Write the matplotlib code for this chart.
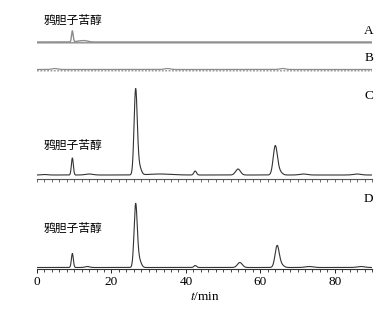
import numpy as np
import matplotlib
matplotlib.use("Agg")
import matplotlib.pyplot as plt

plt.rcParams['font.family'] = ['Liberation Serif', 'Noto Sans CJK SC']
plt.rcParams['mathtext.fontset'] = 'stix'

# --- peak tables: retention time (min), height, width ---
peaks_a_t = [9.5, 11.5, 13.0]
peaks_a_h = [11, 1, 1]
peaks_a_w = [0.22, 1.0, 0.8]

peaks_b_t = [4.8, 35.0, 66.0]
peaks_b_h = [1, 1, 1]
peaks_b_w = [0.8, 0.8, 0.8]

peaks_c_t = [2.0, 9.5, 14.0, 26.5, 27.4, 33.0, 42.5, 54.0, 64.0, 65.0, 71.5, 86.0]
peaks_c_h = [0.5, 17, 1, 84, 9, 1, 4, 6, 28, 4, 1, 1]
peaks_c_w = [0.8, 0.26, 1.0, 0.42, 0.55, 3.0, 0.35, 0.65, 0.55, 0.7, 1.0, 1.0]

peaks_d_t = [9.5, 13.5, 26.5, 27.4, 42.5, 54.5, 64.5, 65.5, 73.0, 87.0]
peaks_d_h = [14, 1, 62, 8, 2, 5, 21, 3, 1, 1]
peaks_d_w = [0.26, 0.6, 0.42, 0.55, 0.35, 0.65, 0.55, 0.7, 1.0, 1.0]

compound = "鸦胆子苦醇"
xticks = [0, 20, 40, 60, 80]

t = np.linspace(0, 90, 2701)


def trace(times, heights, widths):
    y = np.zeros_like(t)
    for tt, h, w in zip(times, heights, widths):
        y += h * np.exp(-0.5 * ((t - tt) / w) ** 2)
    return y


W, H = 388, 311
fig = plt.figure(figsize=(W / 100, H / 100), dpi=100)
left = 37 / W
width = 335 / W


def add_ax(top_px, bottom_px):
    return fig.add_axes([left, 1 - bottom_px / H, width, (bottom_px - top_px) / H])


ax_ab = add_ax(20, 75)
ax_c = add_ax(84, 179)
ax_d = add_ax(195, 269)

for ax in (ax_ab, ax_c, ax_d):
    ax.set_xlim(0, 90)
    for s in ('left', 'right', 'top'):
        ax.spines[s].set_visible(False)
    ax.set_yticks([])
    ax.patch.set_alpha(0)

ax_ab.set_ylim(0, 55)
ax_c.set_ylim(0, 95)
ax_d.set_ylim(0, 74)

line_col = '#333333'
grey = '#8c8c8c'

# A
ya = trace(peaks_a_t, peaks_a_h, peaks_a_w)
ax_ab.plot(t, 33 + ya, color=grey, lw=1.0)
ax_ab.plot(t, 32.2 + ya * 0, color=grey, lw=1.0)
# B
yb = trace(peaks_b_t, peaks_b_h, peaks_b_w)
ax_ab.plot(t, 5.5 + yb, color=grey, lw=0.9)
ax_ab.plot(t, 4.2 + yb * 0, color=grey, lw=0.9, ls=(0, (1.5, 1.2)))
ax_ab.spines['bottom'].set_visible(False)
ax_ab.set_xticks([])

# C
yc = trace(peaks_c_t, peaks_c_h, peaks_c_w)
ax_c.plot(t, 4 + yc, color=line_col, lw=0.8)
ax_c.spines['bottom'].set_color('#555555')
ax_c.spines['bottom'].set_linewidth(0.8)
ax_c.set_xticks(np.arange(0, 91, 2))
ax_c.set_xticklabels([])
ax_c.tick_params(axis='x', length=2, width=0.6, colors='#555555')

# D
yd = trace(peaks_d_t, peaks_d_h, peaks_d_w)
ax_d.plot(t, 1.5 + yd, color=line_col, lw=0.8)
ax_d.spines['bottom'].set_color('#333333')
ax_d.spines['bottom'].set_linewidth(0.8)
ax_d.set_xticks(xticks)
ax_d.set_xticks(np.arange(0, 91, 2), minor=True)
ax_d.tick_params(axis='x', which='major', length=3, width=0.6, labelsize=9.5, pad=2)
ax_d.tick_params(axis='x', which='minor', length=2, width=0.5)
ax_d.set_xlabel('$t$/min', fontsize=9.5, labelpad=2)

# labels
cjk = ['Noto Sans CJK SC']
ax_ab.text(9.6, 55, compound, family=cjk, fontsize=8.5, ha='center', va='center', clip_on=False)
ax_c.text(9.6, 34, compound, family=cjk, fontsize=8.5, ha='center', va='center')
ax_d.text(9.6, 41, compound, family=cjk, fontsize=8.5, ha='center', va='center')

ax_ab.text(89.1, 44, 'A', fontsize=9.5, ha='center', va='center')
ax_ab.text(89.1, 17, 'B', fontsize=9.5, ha='center', va='center')
ax_c.text(89.1, 83, 'C', fontsize=9.5, ha='center', va='center')
ax_d.text(89.1, 70, 'D', fontsize=9.5, ha='center', va='center')

fig.savefig('out.png', dpi=100)
